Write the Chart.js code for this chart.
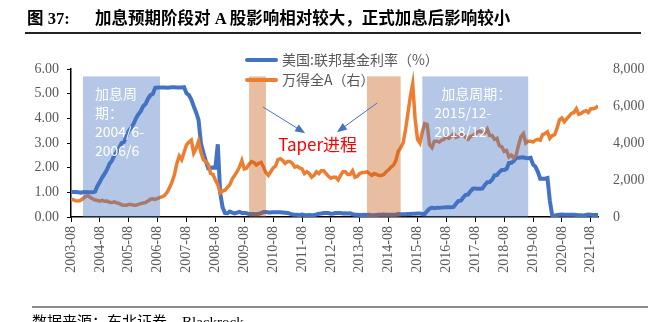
<!DOCTYPE html>
<html>
<head>
<meta charset="utf-8">
<script src="https://cdn.jsdelivr.net/npm/chart.js@4.4.1/dist/chart.umd.min.js"></script>
<style>
  body { margin: 0; background: #fff; }
  #wrap { position: relative; width: 666px; height: 322px; overflow: hidden; }
  #chart { position: absolute; left: 0; top: 0; }
  .title {
    position: absolute; top: 5px; white-space: nowrap;
    font: bold 16.5px "Liberation Serif", "Noto Sans CJK SC", serif; color: #000;
  }
  .rule { position: absolute; }
  .legend { position: absolute; left: 245px; top: 49px; }
  .legend .item { height: 20px; line-height: 20px; white-space: nowrap;
    font: 14px "Noto Sans CJK SC", sans-serif; color: #595959; }
  .legend .swatch { display: inline-block; width: 33px; height: 4px; border-radius: 2px;
    vertical-align: middle; margin-right: 4px; position: relative; top: -1px; }
  .source {
    position: absolute; left: 32px; top: 310px; white-space: nowrap;
    font: 15px "Liberation Serif", "Noto Sans CJK SC", serif; color: #000;
  }
</style>
</head>
<body>
<div id="wrap">
  <canvas id="chart" width="666" height="322"></canvas>
  <div class="title" style="left:27px">图 37:</div>
  <div class="title" style="left:95px">加息预期阶段对 A 股影响相对较大，正式加息后影响较小</div>
  <div class="rule" style="left:25px; top:32px; width:616px; height:1.5px; background:#222;"></div>
  <div class="legend">
    <div class="item"><span class="swatch" style="background:#4472C4"></span>美国:联邦基金利率（%）</div>
    <div class="item"><span class="swatch" style="background:#ED7D31"></span>万得全A（右）</div>
  </div>
  <div class="rule" style="left:32px; top:306px; width:616px; height:2px; background:#8c8c8c;"></div>
  <div class="source">数据来源：东北证券，Blackrock</div>
</div>
<script>
// monthly series, first point = 2003-08
const START_YEAR = 2003;
const START_MONTH = 8;

const xTickLabels = [
  '2003-08', '2004-08', '2005-08', '2006-08', '2007-08', '2008-08', '2009-08',
  '2010-08', '2011-08', '2012-08', '2013-08', '2014-08', '2015-08', '2016-08',
  '2017-08', '2018-08', '2019-08', '2020-08', '2021-08'
];

// 美国联邦基金利率 (%)
const fedRate = [
  1.03, 1.01, 1.01, 1.00, 0.98,                                          // 2003
  1.00, 1.01, 1.00, 1.00, 1.00, 1.03, 1.26, 1.43, 1.61, 1.76, 1.93, 2.16, // 2004
  2.28, 2.50, 2.63, 2.79, 3.00, 3.04, 3.26, 3.50, 3.62, 3.78, 4.00, 4.16, // 2005
  4.29, 4.49, 4.59, 4.79, 4.94, 4.99, 5.24, 5.25, 5.25, 5.25, 5.25, 5.24, // 2006
  5.25, 5.26, 5.26, 5.25, 5.25, 5.25, 5.26, 5.02, 4.94, 4.76, 4.49, 4.24, // 2007
  3.94, 2.98, 2.61, 2.28, 1.98, 2.00, 2.01, 2.00, 2.95, 0.97, 0.39, 0.16, // 2008
  0.15, 0.22, 0.18, 0.15, 0.18, 0.21, 0.16, 0.16, 0.15, 0.12, 0.12, 0.12, // 2009
  0.11, 0.13, 0.16, 0.20, 0.20, 0.18, 0.18, 0.19, 0.19, 0.19, 0.19, 0.18, // 2010
  0.17, 0.16, 0.14, 0.10, 0.09, 0.09, 0.07, 0.10, 0.08, 0.07, 0.08, 0.07, // 2011
  0.08, 0.10, 0.13, 0.14, 0.16, 0.16, 0.16, 0.13, 0.14, 0.16, 0.16, 0.16, // 2012
  0.14, 0.15, 0.14, 0.15, 0.11, 0.09, 0.09, 0.08, 0.08, 0.09, 0.08, 0.09, // 2013
  0.07, 0.07, 0.08, 0.09, 0.09, 0.10, 0.09, 0.09, 0.09, 0.09, 0.09, 0.12, // 2014
  0.11, 0.11, 0.11, 0.12, 0.12, 0.13, 0.13, 0.14, 0.14, 0.12, 0.12, 0.24, // 2015
  0.34, 0.38, 0.36, 0.37, 0.37, 0.38, 0.39, 0.40, 0.40, 0.40, 0.41, 0.54, // 2016
  0.65, 0.66, 0.79, 0.90, 0.91, 1.04, 1.15, 1.16, 1.15, 1.15, 1.16, 1.30, // 2017
  1.41, 1.42, 1.51, 1.69, 1.70, 1.82, 1.91, 1.91, 1.95, 2.19, 2.20, 2.27, // 2018
  2.40, 2.40, 2.41, 2.42, 2.39, 2.38, 2.40, 2.13, 2.04, 1.83, 1.55, 1.55, // 2019
  1.55, 1.58, 0.65, 0.05, 0.05, 0.08, 0.09, 0.10, 0.09, 0.09, 0.09, 0.09, // 2020
  0.09, 0.08, 0.07, 0.07, 0.06, 0.08, 0.10, 0.09, 0.08, 0.08, 0.08        // 2021
];

// 万得全A 指数 (右轴)
const windA = [
  980, 930, 880, 870, 900,                                               // 2003
  1000, 1100, 1150, 1060, 990, 920, 900, 860, 900, 850, 860, 800,        // 2004
  780, 820, 760, 730, 660, 630, 640, 680, 680, 640, 640, 680,            // 2005
  720, 760, 780, 860, 960, 980, 950, 1000, 1060, 1100, 1180, 1350,       // 2006
  1600, 1900, 2300, 2900, 3300, 3100, 3500, 3900, 4050, 4150, 3450, 3700, // 2007
  4100, 3500, 3100, 3000, 2850, 2350, 2300, 2000, 1750, 1300, 1400, 1450, // 2008
  1600, 1750, 2050, 2250, 2450, 2700, 3050, 2600, 2650, 2850, 3000, 2950, // 2009
  2800, 2900, 2950, 2700, 2400, 2250, 2450, 2650, 2750, 3100, 3150, 3050, // 2010
  2900, 3000, 3000, 2900, 2700, 2750, 2650, 2600, 2350, 2450, 2350, 2150, // 2011
  2250, 2450, 2350, 2500, 2500, 2350, 2200, 2100, 2150, 2150, 2000, 2250, // 2012
  2450, 2450, 2300, 2300, 2500, 2150, 2200, 2350, 2400, 2400, 2450, 2350, // 2013
  2250, 2350, 2300, 2250, 2250, 2300, 2450, 2550, 2700, 2800, 3050, 3550, // 2014
  3750, 4000, 4700, 5600, 6500, 7200, 5300, 4200, 4000, 4600, 5050, 5000, // 2015
  3900, 3750, 4100, 4100, 4050, 4150, 4200, 4350, 4250, 4350, 4500, 4300, // 2016
  4350, 4450, 4450, 4300, 4200, 4350, 4400, 4500, 4600, 4650, 4550, 4550, // 2017
  4750, 4400, 4400, 4200, 4250, 3850, 3800, 3550, 3600, 3250, 3350, 3200, // 2018
  3350, 3900, 4350, 4500, 4000, 4100, 4100, 4050, 4150, 4200, 4150, 4450, // 2019
  4500, 4600, 4250, 4400, 4450, 4800, 5250, 5350, 5150, 5300, 5450, 5600, // 2020
  5650, 5850, 5550, 5600, 5700, 5750, 5650, 5850, 5850, 5900, 6000        // 2021
];

// shaded periods (first and last month)
const hikeBands = [['2004-01', '2006-09'], ['2015-10', '2019-06']];
const taperBands = [['2009-10', '2010-05'], ['2013-11', '2015-01']];
const hikeLabels = [
  ['加息周', '期：', '2004/6-', '2006/6'],
  ['加息周期：', '2015/12-', '2018/12']
];

const BLUE = '#4472C4';
const ORANGE = '#ED7D31';

function monthIndex(s) {
  const [y, m] = s.split('-').map(Number);
  return (y - START_YEAR) * 12 + (m - START_MONTH);
}

const toPoints = arr => arr.map((v, i) => ({ x: i, y: v }));

function arrow(ctx, x1, y1, x2, y2) {
  const ang = Math.atan2(y2 - y1, x2 - x1);
  const head = 10;
  ctx.beginPath();
  ctx.moveTo(x1, y1);
  ctx.lineTo(x2 - Math.cos(ang) * head * 0.8, y2 - Math.sin(ang) * head * 0.8);
  ctx.stroke();
  ctx.beginPath();
  ctx.moveTo(x2, y2);
  ctx.lineTo(x2 - head * Math.cos(ang) + 4 * Math.sin(ang), y2 - head * Math.sin(ang) - 4 * Math.cos(ang));
  ctx.lineTo(x2 - head * Math.cos(ang) - 4 * Math.sin(ang), y2 - head * Math.sin(ang) + 4 * Math.cos(ang));
  ctx.closePath();
  ctx.fill();
}

// translucent period boxes on top of the lines, plus their captions
const bandsPlugin = {
  id: 'bands',
  afterDatasetsDraw(chart) {
    const { ctx, scales: { x, y } } = chart;
    const bottom = y.getPixelForValue(0);
    const top = y.getPixelForValue(5.7);
    const rect = (band) => {
      const l = x.getPixelForValue(monthIndex(band[0]));
      const r = x.getPixelForValue(monthIndex(band[1]));
      return [l, r];
    };
    ctx.save();
    ctx.fillStyle = 'rgba(68,114,196,0.4)';
    hikeBands.forEach(b => { const [l, r] = rect(b); ctx.fillRect(l, top, r - l, bottom - top); });
    ctx.fillStyle = 'rgba(197,90,17,0.4)';
    taperBands.forEach(b => { const [l, r] = rect(b); ctx.fillRect(l, top, r - l, bottom - top); });

    ctx.fillStyle = '#fff';
    ctx.font = '14px "Noto Sans CJK SC", sans-serif';
    ctx.textBaseline = 'middle';
    ctx.textAlign = 'left';
    hikeLabels.forEach((lines, k) => {
      const [l] = rect(hikeBands[k]);
      lines.forEach((t, i) => {
        const indent = (k === 1 && i === 0) ? 7 : 0;
        ctx.fillText(t, l + 12 + indent, top + 17 + i * 19);
      });
    });

    // Taper caption and arrows
    ctx.fillStyle = '#FF0000';
    ctx.font = '17px "Noto Sans CJK SC", sans-serif';
    ctx.textAlign = 'center';
    ctx.fillText('Taper进程', x.getPixelForValue(102.5), y.getPixelForValue(2.95));

    ctx.strokeStyle = BLUE;
    ctx.fillStyle = BLUE;
    ctx.lineWidth = 1;
    arrow(ctx, x.getPixelForValue(79.8), y.getPixelForValue(4.46), x.getPixelForValue(97.3), y.getPixelForValue(3.4));
    arrow(ctx, x.getPixelForValue(127.2), y.getPixelForValue(4.62), x.getPixelForValue(110.5), y.getPixelForValue(3.44));
    ctx.restore();
  }
};

const tickFont = { family: '"Liberation Serif", "Times New Roman", serif', size: 14 };

new Chart(document.getElementById('chart'), {
  type: 'line',
  data: {
    datasets: [
      {
        label: '万得全A（右）',
        data: toPoints(windA),
        yAxisID: 'y1',
        borderColor: ORANGE,
        borderWidth: 3.5,
        pointRadius: 0,
        tension: 0,
        order: 0
      },
      {
        label: '美国:联邦基金利率（%）',
        data: toPoints(fedRate),
        yAxisID: 'y',
        borderColor: BLUE,
        borderWidth: 4,
        pointRadius: 0,
        tension: 0,
        order: 1
      }
    ]
  },
  options: {
    responsive: false,
    animation: false,
    devicePixelRatio: 1,
    layout: { padding: { top: 69, left: 0, right: 0, bottom: 0 } },
    plugins: { legend: { display: false }, tooltip: { enabled: false } },
    scales: {
      x: {
        type: 'linear',
        min: 0,
        max: fedRate.length - 1,
        ticks: {
          stepSize: 12,
          includeBounds: false,
          autoSkip: false,
          minRotation: 90,
          maxRotation: 90,
          padding: 4,
          color: '#595959',
          font: tickFont,
          callback: v => xTickLabels[v / 12]
        },
        grid: { drawOnChartArea: false, tickLength: 5, color: '#000' },
        border: { color: '#000', width: 1.5 },
        afterFit: s => { s.height = 105; }
      },
      y: {
        position: 'left',
        min: 0,
        max: 6,
        ticks: { stepSize: 1, padding: 8, color: '#595959', font: tickFont, callback: v => v.toFixed(2) },
        grid: { drawOnChartArea: false, tickLength: 4, color: '#000' },
        border: { color: '#000', width: 1.5 },
        afterFit: s => { s.width = 71; }
      },
      y1: {
        position: 'right',
        min: 0,
        max: 8000,
        ticks: { stepSize: 1000, padding: 15, color: '#595959', font: tickFont, callback: v => v.toLocaleString('en-US') },
        grid: { display: false, drawTicks: false },
        border: { display: false },
        afterFit: s => { s.width = 68; }
      }
    }
  },
  plugins: [bandsPlugin]
});
</script>
</body>
</html>
